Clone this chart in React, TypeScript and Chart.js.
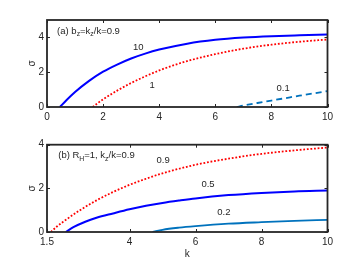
import React, { useEffect, useRef } from "react";
import { Chart, registerables } from "chart.js";

Chart.register(...registerables);

// ---------- data: panel (a) ----------
const aXTicks = [0, 2, 4, 6, 8, 10];
const aYTicks = [0, 2, 4];
const aK10 = [0.46, 0.7, 1.0, 1.5, 2, 2.5, 3, 3.5, 4, 5, 6, 7, 8, 9, 10];
const aS10 = [0, 0.4, 0.86, 1.5, 2.03, 2.44, 2.79, 3.07, 3.3, 3.64, 3.86, 3.99, 4.07, 4.12, 4.16];
const aK1 = [1.63, 1.8, 2, 2.5, 3, 3.5, 4, 4.5, 5, 6, 7, 8, 9, 10];
const aS1 = [0, 0.21, 0.44, 0.94, 1.38, 1.76, 2.1, 2.39, 2.64, 3.04, 3.35, 3.58, 3.75, 3.88];
const aK01 = [6.77, 7, 7.5, 8, 8.5, 9, 9.5, 10];
const aS01 = [0, 0.08, 0.23, 0.37, 0.51, 0.65, 0.78, 0.91];

// ---------- data: panel (b) ----------
const bXTicks = [1.5, 4, 6, 8, 10];
const bYTicks = [0, 2, 4];
const bK09 = [1.62, 1.8, 2, 2.5, 3, 3.5, 4, 4.5, 5, 6, 7, 8, 9, 10];
const bS09 = [0, 0.25, 0.48, 1.0, 1.45, 1.83, 2.16, 2.44, 2.69, 3.08, 3.36, 3.58, 3.74, 3.87];
const bK05 = [2.07, 2.3, 2.66, 3, 3.5, 4, 4.5, 5, 5.5, 6, 7, 8, 9, 10];
const bS05 = [0, 0.22, 0.47, 0.65, 0.85, 1.04, 1.2, 1.33, 1.44, 1.54, 1.69, 1.79, 1.86, 1.9];
const bK02 = [4.7, 5, 5.5, 6, 7, 8, 9, 10];
const bS02 = [0, 0.1, 0.2, 0.27, 0.38, 0.45, 0.51, 0.56];

// ---------- text labels (data coordinates) ----------
const aLabels = [
  { text: "(a) b_z=k_z/k=0.9", k: 0.36, s: 4.34, align: "left" },
  { text: "10", k: 3.25, s: 3.45, align: "center" },
  { text: "1", k: 3.75, s: 1.22, align: "center" },
  { text: "0.1", k: 8.42, s: 1.09, align: "center" },
];
const bLabels = [
  { text: "(b) R_H=1, k_z/k=0.9", k: 1.84, s: 3.49, align: "left" },
  { text: "0.9", k: 5.02, s: 3.26, align: "center" },
  { text: "0.5", k: 6.38, s: 2.17, align: "center" },
  { text: "0.2", k: 6.86, s: 0.92, align: "center" },
];

const INK = "#262626";
const FONT = "'Liberation Sans', Arial, Helvetica, sans-serif";
const RED = "#FF0000";
const BLUE = "#0000FF";
const LBLUE = "#0072BD";

const toPts = (k: number[], s: number[]) => k.map((x, i) => ({ x, y: s[i] }));

function parseParts(text: string) {
  const parts: { t: string; sub: boolean }[] = [];
  let buf = "";
  for (let i = 0; i < text.length; i++) {
    if (text[i] === "_" && i + 1 < text.length) {
      if (buf) parts.push({ t: buf, sub: false });
      buf = "";
      parts.push({ t: text[i + 1], sub: true });
      i++;
    } else buf += text[i];
  }
  if (buf) parts.push({ t: buf, sub: false });
  return parts;
}

const boxPlugin = {
  id: "matlabBox",
  afterDatasetsDraw(chart: any, _args: any, opts: any) {
    const { ctx, chartArea: a, scales } = chart;
    const xs = scales.x;
    const ys = scales.y;
    ctx.save();
    ctx.strokeStyle = INK;
    ctx.lineWidth = 1;
    const tl = 3;
    ctx.beginPath();
    xs.ticks.forEach((t: any) => {
      const px = Math.round(xs.getPixelForValue(t.value)) + 0.5;
      ctx.moveTo(px, a.bottom);
      ctx.lineTo(px, a.bottom - tl);
      ctx.moveTo(px, a.top);
      ctx.lineTo(px, a.top + tl);
    });
    ys.ticks.forEach((t: any) => {
      const py = Math.round(ys.getPixelForValue(t.value)) + 0.5;
      ctx.moveTo(a.left, py);
      ctx.lineTo(a.left + tl, py);
      ctx.moveTo(a.right, py);
      ctx.lineTo(a.right - tl, py);
    });
    ctx.stroke();
    ctx.lineWidth = 1.8;
    ctx.strokeRect(a.left, a.top, a.right - a.left, a.bottom - a.top);

    const size = opts.fontSize || 9.5;
    ctx.fillStyle = INK;
    ctx.textBaseline = "middle";
    ctx.textAlign = "left";
    (opts.labels || []).forEach((l: any) => {
      const parts = parseParts(l.text);
      const widths = parts.map((p) => {
        ctx.font = `${p.sub ? size * 0.72 : size}px ${FONT}`;
        return ctx.measureText(p.t).width;
      });
      const total = widths.reduce((s, w) => s + w, 0);
      let x = xs.getPixelForValue(l.k);
      const y = ys.getPixelForValue(l.s);
      if (l.align === "center") x -= total / 2;
      parts.forEach((p, i) => {
        ctx.font = `${p.sub ? size * 0.72 : size}px ${FONT}`;
        ctx.fillText(p.t, x, p.sub ? y + size * 0.32 : y);
        x += widths[i];
      });
    });
    ctx.restore();
  },
};

function makeConfig(
  datasets: any[],
  xMin: number,
  xMax: number,
  yMax: number,
  xTicks: number[],
  yTicks: number[],
  labels: any[],
  padTop: number,
  xAxisHeight: number,
  showK: boolean
): any {
  return {
    type: "line",
    data: { datasets },
    plugins: [boxPlugin],
    options: {
      responsive: false,
      maintainAspectRatio: false,
      animation: false,
      devicePixelRatio: 1,
      layout: { padding: { top: padTop, right: 34.5, left: 0, bottom: 0 } },
      elements: { point: { radius: 0 } },
      plugins: {
        legend: { display: false },
        tooltip: { enabled: false },
        matlabBox: { labels, fontSize: 9.5 },
      },
      scales: {
        x: {
          type: "linear",
          min: xMin,
          max: xMax,
          afterBuildTicks: (s: any) => {
            s.ticks = xTicks.map((v) => ({ value: v }));
          },
          afterFit: (s: any) => {
            s.height = xAxisHeight;
          },
          grid: { display: false, drawTicks: false },
          border: { display: false },
          ticks: {
            color: INK,
            font: { family: FONT, size: 10 },
            padding: 4,
            maxRotation: 0,
            autoSkip: false,
            callback: (v: any) => String(v),
          },
          title: {
            display: showK,
            text: "k",
            color: INK,
            font: { family: FONT, size: 10 },
            padding: { top: 0, bottom: 4 },
          },
        },
        y: {
          type: "linear",
          min: 0,
          max: yMax,
          afterBuildTicks: (s: any) => {
            s.ticks = yTicks.map((v) => ({ value: v }));
          },
          afterFit: (s: any) => {
            s.width = 47;
          },
          grid: { display: false, drawTicks: false },
          border: { display: false },
          ticks: {
            color: INK,
            font: { family: FONT, size: 10 },
            padding: 3,
            callback: (v: any) => String(v),
          },
          title: {
            display: true,
            text: "σ",
            color: INK,
            font: { family: FONT, size: 10 },
            padding: { top: 26, bottom: 0 },
          },
        },
      },
    },
  };
}

const line = (pts: any[], color: string, width: number, dash: number[]) => ({
  data: pts,
  borderColor: color,
  backgroundColor: color,
  borderWidth: width,
  borderDash: dash,
  pointRadius: 0,
  fill: false,
  cubicInterpolationMode: "monotone",
});

export default function App() {
  const topRef = useRef<HTMLCanvasElement>(null);
  const botRef = useRef<HTMLCanvasElement>(null);

  useEffect(() => {
    const top = new Chart(
      topRef.current as HTMLCanvasElement,
      makeConfig(
        [
          line(toPts(aK10, aS10), BLUE, 2, []),
          line(toPts(aK1, aS1), RED, 1.8, [1.8, 1.8]),
          line(toPts(aK01, aS01), LBLUE, 1.8, [6, 4]),
        ],
        0,
        10,
        5,
        aXTicks,
        aYTicks,
        aLabels,
        20,
        25,
        false
      )
    );
    const bot = new Chart(
      botRef.current as HTMLCanvasElement,
      makeConfig(
        [
          line(toPts(bK09, bS09), RED, 1.8, [1.8, 1.8]),
          line(toPts(bK05, bS05), BLUE, 2, []),
          line(toPts(bK02, bS02), LBLUE, 1.8, []),
        ],
        1.5,
        10,
        4,
        bXTicks,
        bYTicks,
        bLabels,
        12.7,
        32,
        true
      )
    );
    return () => {
      top.destroy();
      bot.destroy();
    };
  }, []);

  return (
    <div
      style={{
        position: "absolute",
        left: 0,
        top: 0,
        width: 362,
        height: 264,
        background: "#fff",
      }}
    >
      <canvas
        ref={topRef}
        width={362}
        height={132}
        style={{ position: "absolute", left: 0, top: 0, width: 362, height: 132 }}
      />
      <canvas
        ref={botRef}
        width={362}
        height={132}
        style={{ position: "absolute", left: 0, top: 132, width: 362, height: 132 }}
      />
    </div>
  );
}
